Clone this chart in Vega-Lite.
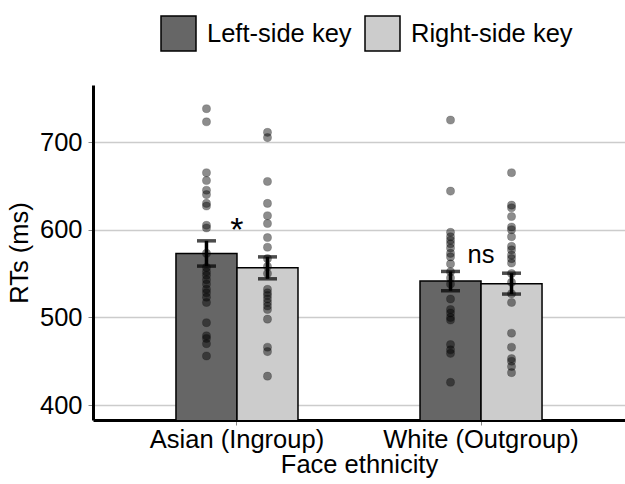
{
  "$schema": "https://vega.github.io/schema/vega-lite/v6.json",
  "width": 532,
  "height": 335,
  "autosize": {"type": "none"},
  "padding": {"left": 93, "top": 85, "right": 0, "bottom": 64},
  "background": "white",
  "config": {
    "font": "Liberation Sans",
    "view": {"stroke": null}
  },
  "datasets": {
    "summary": [
      {"group": "Asian (Ingroup)", "key": "Left-side key", "mean": 573, "lo": 558.5, "hi": 587.3},
      {"group": "Asian (Ingroup)", "key": "Right-side key", "mean": 556.5, "lo": 544, "hi": 569},
      {"group": "White (Outgroup)", "key": "Left-side key", "mean": 541.5, "lo": 530.4, "hi": 552.4},
      {"group": "White (Outgroup)", "key": "Right-side key", "mean": 538.5, "lo": 526.6, "hi": 550.4}
    ],
    "notes": [
      {"group": "Asian (Ingroup)", "label": "*", "y": 599},
      {"group": "White (Outgroup)", "label": "ns", "y": 571}
    ],
    "points": [
      {"group": "Asian (Ingroup)", "key": "Left-side key", "rt": 738},
      {"group": "Asian (Ingroup)", "key": "Left-side key", "rt": 723},
      {"group": "Asian (Ingroup)", "key": "Left-side key", "rt": 665},
      {"group": "Asian (Ingroup)", "key": "Left-side key", "rt": 656},
      {"group": "Asian (Ingroup)", "key": "Left-side key", "rt": 645},
      {"group": "Asian (Ingroup)", "key": "Left-side key", "rt": 640},
      {"group": "Asian (Ingroup)", "key": "Left-side key", "rt": 630},
      {"group": "Asian (Ingroup)", "key": "Left-side key", "rt": 627},
      {"group": "Asian (Ingroup)", "key": "Left-side key", "rt": 605},
      {"group": "Asian (Ingroup)", "key": "Left-side key", "rt": 602},
      {"group": "Asian (Ingroup)", "key": "Left-side key", "rt": 573},
      {"group": "Asian (Ingroup)", "key": "Left-side key", "rt": 557},
      {"group": "Asian (Ingroup)", "key": "Left-side key", "rt": 552},
      {"group": "Asian (Ingroup)", "key": "Left-side key", "rt": 548},
      {"group": "Asian (Ingroup)", "key": "Left-side key", "rt": 543},
      {"group": "Asian (Ingroup)", "key": "Left-side key", "rt": 538},
      {"group": "Asian (Ingroup)", "key": "Left-side key", "rt": 532},
      {"group": "Asian (Ingroup)", "key": "Left-side key", "rt": 528},
      {"group": "Asian (Ingroup)", "key": "Left-side key", "rt": 523},
      {"group": "Asian (Ingroup)", "key": "Left-side key", "rt": 517},
      {"group": "Asian (Ingroup)", "key": "Left-side key", "rt": 494},
      {"group": "Asian (Ingroup)", "key": "Left-side key", "rt": 479},
      {"group": "Asian (Ingroup)", "key": "Left-side key", "rt": 476},
      {"group": "Asian (Ingroup)", "key": "Left-side key", "rt": 470},
      {"group": "Asian (Ingroup)", "key": "Left-side key", "rt": 456},
      {"group": "Asian (Ingroup)", "key": "Right-side key", "rt": 711},
      {"group": "Asian (Ingroup)", "key": "Right-side key", "rt": 705},
      {"group": "Asian (Ingroup)", "key": "Right-side key", "rt": 655},
      {"group": "Asian (Ingroup)", "key": "Right-side key", "rt": 630},
      {"group": "Asian (Ingroup)", "key": "Right-side key", "rt": 616},
      {"group": "Asian (Ingroup)", "key": "Right-side key", "rt": 607},
      {"group": "Asian (Ingroup)", "key": "Right-side key", "rt": 591},
      {"group": "Asian (Ingroup)", "key": "Right-side key", "rt": 580},
      {"group": "Asian (Ingroup)", "key": "Right-side key", "rt": 567},
      {"group": "Asian (Ingroup)", "key": "Right-side key", "rt": 558},
      {"group": "Asian (Ingroup)", "key": "Right-side key", "rt": 550},
      {"group": "Asian (Ingroup)", "key": "Right-side key", "rt": 532},
      {"group": "Asian (Ingroup)", "key": "Right-side key", "rt": 528},
      {"group": "Asian (Ingroup)", "key": "Right-side key", "rt": 525},
      {"group": "Asian (Ingroup)", "key": "Right-side key", "rt": 521},
      {"group": "Asian (Ingroup)", "key": "Right-side key", "rt": 517},
      {"group": "Asian (Ingroup)", "key": "Right-side key", "rt": 513},
      {"group": "Asian (Ingroup)", "key": "Right-side key", "rt": 509},
      {"group": "Asian (Ingroup)", "key": "Right-side key", "rt": 498},
      {"group": "Asian (Ingroup)", "key": "Right-side key", "rt": 466},
      {"group": "Asian (Ingroup)", "key": "Right-side key", "rt": 461},
      {"group": "Asian (Ingroup)", "key": "Right-side key", "rt": 433},
      {"group": "White (Outgroup)", "key": "Left-side key", "rt": 725},
      {"group": "White (Outgroup)", "key": "Left-side key", "rt": 644},
      {"group": "White (Outgroup)", "key": "Left-side key", "rt": 597},
      {"group": "White (Outgroup)", "key": "Left-side key", "rt": 592},
      {"group": "White (Outgroup)", "key": "Left-side key", "rt": 588},
      {"group": "White (Outgroup)", "key": "Left-side key", "rt": 584},
      {"group": "White (Outgroup)", "key": "Left-side key", "rt": 579},
      {"group": "White (Outgroup)", "key": "Left-side key", "rt": 573},
      {"group": "White (Outgroup)", "key": "Left-side key", "rt": 569},
      {"group": "White (Outgroup)", "key": "Left-side key", "rt": 561},
      {"group": "White (Outgroup)", "key": "Left-side key", "rt": 552},
      {"group": "White (Outgroup)", "key": "Left-side key", "rt": 545},
      {"group": "White (Outgroup)", "key": "Left-side key", "rt": 538},
      {"group": "White (Outgroup)", "key": "Left-side key", "rt": 521},
      {"group": "White (Outgroup)", "key": "Left-side key", "rt": 509},
      {"group": "White (Outgroup)", "key": "Left-side key", "rt": 505},
      {"group": "White (Outgroup)", "key": "Left-side key", "rt": 500},
      {"group": "White (Outgroup)", "key": "Left-side key", "rt": 497},
      {"group": "White (Outgroup)", "key": "Left-side key", "rt": 469},
      {"group": "White (Outgroup)", "key": "Left-side key", "rt": 463},
      {"group": "White (Outgroup)", "key": "Left-side key", "rt": 459},
      {"group": "White (Outgroup)", "key": "Left-side key", "rt": 426},
      {"group": "White (Outgroup)", "key": "Right-side key", "rt": 665},
      {"group": "White (Outgroup)", "key": "Right-side key", "rt": 628},
      {"group": "White (Outgroup)", "key": "Right-side key", "rt": 625},
      {"group": "White (Outgroup)", "key": "Right-side key", "rt": 615},
      {"group": "White (Outgroup)", "key": "Right-side key", "rt": 603},
      {"group": "White (Outgroup)", "key": "Right-side key", "rt": 600},
      {"group": "White (Outgroup)", "key": "Right-side key", "rt": 592},
      {"group": "White (Outgroup)", "key": "Right-side key", "rt": 581},
      {"group": "White (Outgroup)", "key": "Right-side key", "rt": 577},
      {"group": "White (Outgroup)", "key": "Right-side key", "rt": 571},
      {"group": "White (Outgroup)", "key": "Right-side key", "rt": 567},
      {"group": "White (Outgroup)", "key": "Right-side key", "rt": 562},
      {"group": "White (Outgroup)", "key": "Right-side key", "rt": 550},
      {"group": "White (Outgroup)", "key": "Right-side key", "rt": 540},
      {"group": "White (Outgroup)", "key": "Right-side key", "rt": 527},
      {"group": "White (Outgroup)", "key": "Right-side key", "rt": 517},
      {"group": "White (Outgroup)", "key": "Right-side key", "rt": 482},
      {"group": "White (Outgroup)", "key": "Right-side key", "rt": 466},
      {"group": "White (Outgroup)", "key": "Right-side key", "rt": 453},
      {"group": "White (Outgroup)", "key": "Right-side key", "rt": 450},
      {"group": "White (Outgroup)", "key": "Right-side key", "rt": 444},
      {"group": "White (Outgroup)", "key": "Right-side key", "rt": 437}
    ]
  },
  "encoding": {
    "x": {
      "field": "group",
      "type": "nominal",
      "sort": ["Asian (Ingroup)", "White (Outgroup)"],
      "scale": {"paddingInner": 0.5, "paddingOuter": 0.34},
      "axis": {
        "title": "Face ethnicity",
        "titleFontSize": 25.5,
        "titleFontWeight": "normal",
        "titleColor": "black",
        "titlePadding": 0,
        "labelFontSize": 25.5,
        "labelColor": "black",
        "labelAngle": 0,
        "labelPadding": 2,
        "labelLimit": 400,
        "labelOverlap": false,
        "domainColor": "black",
        "domainWidth": 3,
        "tickColor": "#888888",
        "tickSize": 5,
        "tickWidth": 1,
        "grid": false
      }
    }
  },
  "layer": [
    {
      "data": {"name": "summary"},
      "mark": {"type": "bar", "stroke": "black", "strokeWidth": 1.5, "clip": true},
      "encoding": {
        "xOffset": {"field": "key", "type": "nominal", "scale": {"paddingInner": 0, "paddingOuter": 0}},
        "y": {
          "field": "mean",
          "type": "quantitative",
          "scale": {"domain": [383, 765], "nice": false, "zero": false},
          "axis": {
            "title": "RTs (ms)",
            "titleFontSize": 25.5,
            "titleFontWeight": "normal",
            "titleColor": "black",
            "titlePadding": 7,
            "labelFontSize": 25.5,
            "labelColor": "black",
            "labelPadding": 6,
            "values": [400, 500, 600, 700],
            "domainColor": "black",
            "domainWidth": 3,
            "tickColor": "#888888",
            "tickSize": 5,
            "tickWidth": 1,
            "grid": true,
            "gridColor": "#cccccc",
            "gridWidth": 1.5
          }
        },
        "fill": {
          "field": "key",
          "type": "nominal",
          "scale": {"domain": ["Left-side key", "Right-side key"], "range": ["#666666", "#cccccc"]},
          "legend": {
            "title": null,
            "orient": "none",
            "direction": "horizontal",
            "legendX": 67,
            "legendY": -70,
            "symbolType": "square",
            "symbolSize": 1225,
            "symbolStrokeColor": "black",
            "symbolStrokeWidth": 1.5,
            "symbolOpacity": 1,
            "labelFontSize": 25.5,
            "labelColor": "black",
            "labelOffset": 10,
            "columnPadding": 10,
            "labelLimit": 300
          }
        }
      }
    },
    {
      "data": {"name": "points"},
      "mark": {"type": "circle", "size": 65, "fill": "black", "fillOpacity": 0.45, "stroke": "black", "strokeOpacity": 0.25, "strokeWidth": 0.8},
      "encoding": {
        "xOffset": {"field": "key", "type": "nominal"},
        "y": {"field": "rt", "type": "quantitative"}
      }
    },
    {
      "data": {"name": "summary"},
      "mark": {"type": "rule", "color": "black", "strokeWidth": 3.5},
      "encoding": {
        "xOffset": {"field": "key", "type": "nominal"},
        "y": {"field": "lo", "type": "quantitative"},
        "y2": {"field": "hi"}
      }
    },
    {
      "data": {"name": "summary"},
      "mark": {"type": "tick", "orient": "horizontal", "color": "black", "size": 19, "thickness": 3.5},
      "encoding": {
        "xOffset": {"field": "key", "type": "nominal"},
        "y": {"field": "lo", "type": "quantitative"}
      }
    },
    {
      "data": {"name": "summary"},
      "mark": {"type": "tick", "orient": "horizontal", "color": "black", "size": 19, "thickness": 3.5},
      "encoding": {
        "xOffset": {"field": "key", "type": "nominal"},
        "y": {"field": "hi", "type": "quantitative"}
      }
    },
    {
      "data": {"name": "notes"},
      "transform": [{"filter": "datum.label === '*'"}],
      "mark": {"type": "text", "fontSize": 34, "color": "black", "baseline": "middle", "align": "center"},
      "encoding": {
        "y": {"field": "y", "type": "quantitative"},
        "text": {"field": "label"}
      }
    },
    {
      "data": {"name": "notes"},
      "transform": [{"filter": "datum.label !== '*'"}],
      "mark": {"type": "text", "fontSize": 25.5, "color": "black", "baseline": "middle", "align": "center"},
      "encoding": {
        "y": {"field": "y", "type": "quantitative"},
        "text": {"field": "label"}
      }
    }
  ]
}
